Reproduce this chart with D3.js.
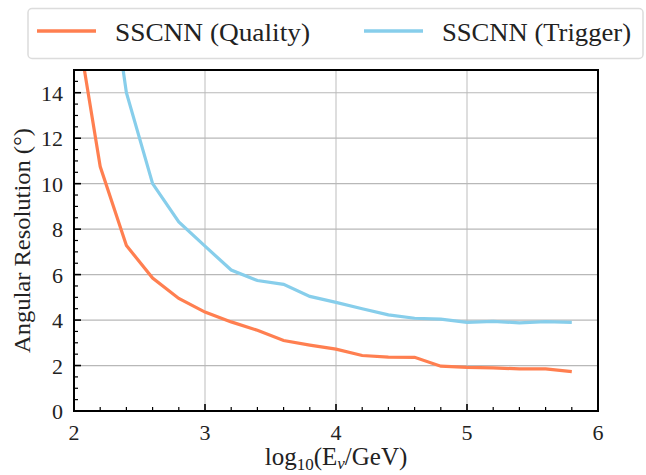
<!DOCTYPE html>
<html><head><meta charset="utf-8">
<script src="https://cdn.jsdelivr.net/npm/d3@7"></script>
<style>body{margin:0;background:#fff}svg{display:block}text{font-family:"Liberation Serif","DejaVu Serif",serif;fill:#222}</style>
</head><body><svg id="c" width="646" height="475"></svg>
<script>
const energies = [2.0,2.2,2.4,2.6,2.8,3.0,3.2,3.4,3.6,3.8,4.0,4.2,4.4,4.6,4.8,5.0,5.2,5.4,5.6,5.8];
const quality  = [17.8,10.75,7.28,5.85,4.95,4.35,3.92,3.55,3.1,2.9,2.72,2.44,2.37,2.36,1.97,1.92,1.9,1.85,1.85,1.73];
const trigger  = [26,22,14.0,10.0,8.32,7.25,6.2,5.74,5.57,5.04,4.78,4.5,4.23,4.08,4.04,3.9,3.94,3.88,3.93,3.9];
const seriesNames = ["SSCNN (Quality)","SSCNN (Trigger)"];
const colors = ["#FF7F50","#87CEEB"];
const xTicks = [2,3,4,5,6];
const yTicks = [0,2,4,6,8,10,12,14];

const svg = d3.select("#c");
const L=74,R=598,T=70,B=411;
const x = d3.scaleLinear().domain([2,6]).range([L,R]);
const y = d3.scaleLinear().domain([0,15]).range([B,T]);

// grid
svg.append("g").selectAll("line").data([3,4,5]).join("line")
  .attr("x1",d=>x(d)).attr("x2",d=>x(d)).attr("y1",T).attr("y2",B)
  .attr("stroke","#c8c8c8").attr("stroke-width",1.2);
svg.append("g").selectAll("line").data(yTicks.filter(d=>d>0)).join("line")
  .attr("y1",d=>y(d)).attr("y2",d=>y(d)).attr("x1",L).attr("x2",R)
  .attr("stroke","#b8b8b8").attr("stroke-width",1.2);

svg.append("clipPath").attr("id","clip").append("rect").attr("x",L).attr("y",T).attr("width",R-L).attr("height",B-T);
const line = d3.line().x((d,i)=>x(energies[i])).y(d=>y(d));
[quality,trigger].forEach((s,k)=>{
  svg.append("path").attr("d",line(s)).attr("fill","none").attr("stroke",colors[k])
    .attr("stroke-width",3.2).attr("clip-path","url(#clip)");
});

// ticks inward
const xMinor = d3.range(2,6.001,0.2).filter(v=>Math.abs(v-Math.round(v))>1e-6);
const yMinor = d3.range(0,15.001,0.5).filter(v=>Math.abs(v/2-Math.round(v/2))>1e-6);
const g = svg.append("g").attr("stroke","#000");
xTicks.forEach(v=>g.append("line").attr("x1",x(v)).attr("x2",x(v)).attr("y1",B).attr("y2",B-7).attr("stroke-width",1.6));
xMinor.forEach(v=>g.append("line").attr("x1",x(v)).attr("x2",x(v)).attr("y1",B).attr("y2",B-4).attr("stroke-width",1.2));
yTicks.forEach(v=>g.append("line").attr("y1",y(v)).attr("y2",y(v)).attr("x1",L).attr("x2",L+7).attr("stroke-width",1.6));
yMinor.forEach(v=>g.append("line").attr("y1",y(v)).attr("y2",y(v)).attr("x1",L).attr("x2",L+4).attr("stroke-width",1.2));

svg.append("rect").attr("x",L).attr("y",T).attr("width",R-L).attr("height",B-T)
  .attr("fill","none").attr("stroke","#000").attr("stroke-width",2);

svg.append("g").selectAll("text").data(xTicks).join("text")
  .attr("x",d=>x(d)).attr("y",B+29).attr("text-anchor","middle").attr("font-size",22).text(d=>d);
svg.append("g").selectAll("text").data(yTicks).join("text")
  .attr("x",L-11).attr("y",d=>y(d)+8).attr("text-anchor","end").attr("font-size",22).text(d=>d);

const xl = svg.append("text").attr("x",336).attr("y",465).attr("text-anchor","middle").attr("font-size",25);
xl.append("tspan").text("log");
xl.append("tspan").attr("font-size",17).attr("dy",5).text("10");
xl.append("tspan").attr("dy",-5).text("(E");
xl.append("tspan").attr("font-size",17).attr("dy",4).attr("font-style","italic").text("ν");
xl.append("tspan").attr("dy",-4).text("/GeV)");

svg.append("text").attr("transform","translate(30,240.5) rotate(-90)").attr("text-anchor","middle")
  .attr("font-size",23).attr("textLength",225).attr("lengthAdjust","spacingAndGlyphs")
  .text("Angular Resolution (°)");

// legend
const lg = svg.append("g");
lg.append("rect").attr("x",28).attr("y",8.5).attr("width",615).attr("height",50).attr("rx",4)
  .attr("fill","#fff").attr("stroke","#dcdcdc").attr("stroke-width",1.5);
const lx=[37,364], tw=[195,189];
seriesNames.forEach((n,k)=>{
  lg.append("line").attr("x1",lx[k]).attr("x2",lx[k]+59).attr("y1",31).attr("y2",31)
    .attr("stroke",colors[k]).attr("stroke-width",3.4);
  lg.append("text").attr("x",lx[k]+78).attr("y",41).attr("font-size",25)
    .attr("textLength",tw[k]).attr("lengthAdjust","spacingAndGlyphs").text(n);
});
</script></body></html>
